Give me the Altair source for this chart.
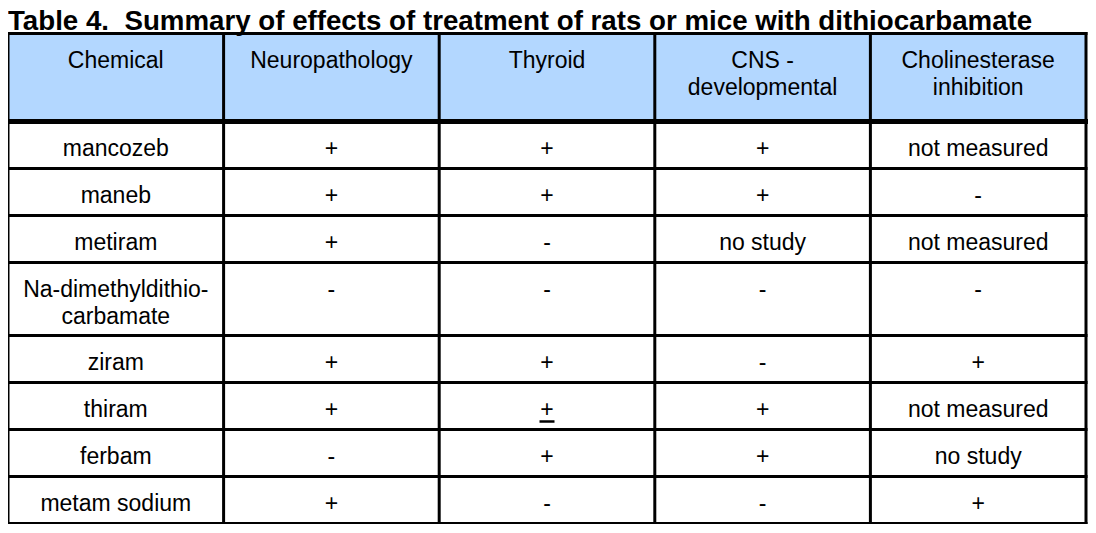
import altair as alt
import pandas as pd

# ---------------- data ----------------
title_text = "Table 4.\u00a0 Summary of effects of treatment of rats or mice with dithiocarbamate"
headers = ["Chemical", "Neuropathology", "Thyroid", "CNS -\ndevelopmental", "Cholinesterase\ninhibition"]
chemicals = ["mancozeb", "maneb", "metiram", "Na-dimethyldithio-\ncarbamate",
             "ziram", "thiram", "ferbam", "metam sodium"]
neuropathology = ["+", "+", "+", "-", "+", "+", "-", "+"]
thyroid = ["+", "+", "-", "-", "+", "\u00b1", "+", "-"]
cns_developmental = ["+", "+", "no study", "-", "-", "+", "+", "-"]
cholinesterase = ["not measured", "-", "not measured", "-", "+", "not measured", "no study", "+"]

# ---------------- layout ----------------
W = 1078
HEADER_H = 88
ROW_PAD = 21
LINE_H = 26
FIRST_BASELINE = 34
TEXT_LINE_H = 27
FONT = "Liberation Sans"
FONT_SIZE = 23
HEADER_FILL = "#B3D7FF"

columns = [chemicals, neuropathology, thyroid, cns_developmental, cholinesterase]
n_cols = len(columns)
n_rows = len(chemicals)
row_lines = [max(c[i].count("\n") + 1 for c in columns) for i in range(n_rows)]
row_heights = [ROW_PAD + LINE_H * n for n in row_lines]

tops = [HEADER_H]
for h in row_heights:
    tops.append(tops[-1] + h)
H = tops[-1]

cells = []
for j, h in enumerate(headers):
    cells.append({"xc": j + 0.5, "ty": FIRST_BASELINE, "label": h})
for i in range(n_rows):
    for j, c in enumerate(columns):
        cells.append({"xc": j + 0.5, "ty": tops[i] + FIRST_BASELINE, "label": c[i]})
cells_df = pd.DataFrame(cells)

hlines = [{"y": 0, "x0": 0, "x1": n_cols, "sw": 3}]
hlines.append({"y": HEADER_H, "x0": 0, "x1": n_cols, "sw": 5})
for t in tops[1:]:
    hlines.append({"y": t, "x0": 0, "x1": n_cols, "sw": 3})
hlines_df = pd.DataFrame(hlines)

vlines_df = pd.DataFrame([{"x": j, "y0": 0, "y1": H} for j in range(n_cols + 1)])
header_df = pd.DataFrame([{"x0": 0, "x1": n_cols, "y0": 0, "y1": HEADER_H}])
title_df = pd.DataFrame([{"t": title_text}])

xs = alt.Scale(domain=[0, n_cols], nice=False, zero=False)
ys = alt.Scale(domain=[0, H], nice=False, zero=False, reverse=True)

header_rect = alt.Chart(header_df).mark_rect(color=HEADER_FILL).encode(
    x=alt.X("x0:Q", scale=xs, axis=None), x2="x1:Q",
    y=alt.Y("y0:Q", scale=ys, axis=None), y2="y1:Q",
)

# "±" is drawn as an underlined plus, as in the source table
texts = alt.Chart(cells_df).transform_calculate(
    lines="split(replace(datum.label, '\u00b1', '+'), '\\n')"
).mark_text(
    font=FONT, fontSize=FONT_SIZE, color="black", align="center",
    baseline="alphabetic", lineHeight=TEXT_LINE_H,
).encode(
    x=alt.X("xc:Q", scale=xs, axis=None),
    y=alt.Y("ty:Q", scale=ys, axis=None),
    text=alt.Text("lines:N"),
)

underline = alt.Chart(cells_df).transform_filter(
    "datum.label == '\u00b1'"
).mark_rule(color="black", strokeWidth=2.5, xOffset=-7.5, x2Offset=7.5, yOffset=5).encode(
    x=alt.X("xc:Q", scale=xs, axis=None), x2="xc:Q",
    y=alt.Y("ty:Q", scale=ys, axis=None),
)

hrules = alt.Chart(hlines_df).mark_rule(color="black", strokeCap="square").encode(
    x=alt.X("x0:Q", scale=xs, axis=None), x2="x1:Q",
    y=alt.Y("y:Q", scale=ys, axis=None),
    strokeWidth=alt.StrokeWidth("sw:Q", scale=None, legend=None),
)

vrules = alt.Chart(vlines_df).mark_rule(color="black", strokeWidth=3, strokeCap="square").encode(
    x=alt.X("x:Q", scale=xs, axis=None),
    y=alt.Y("y0:Q", scale=ys, axis=None), y2="y1:Q",
)

title = alt.Chart(title_df).mark_text(
    font=FONT, fontSize=27.7, fontWeight="bold", color="black",
    align="left", baseline="alphabetic",
).encode(
    x=alt.value(0), y=alt.value(-4), text="t:N",
)

chart = alt.layer(header_rect, texts, underline, title, hrules, vrules).properties(
    width=W, height=H,
    padding={"left": 0, "top": 25.5, "right": 2, "bottom": 0},
    autosize=alt.AutoSizeParams(type="none"),
).configure_view(strokeWidth=0)

chart.save("out.html", embed_options={"renderer": "svg", "actions": False})
